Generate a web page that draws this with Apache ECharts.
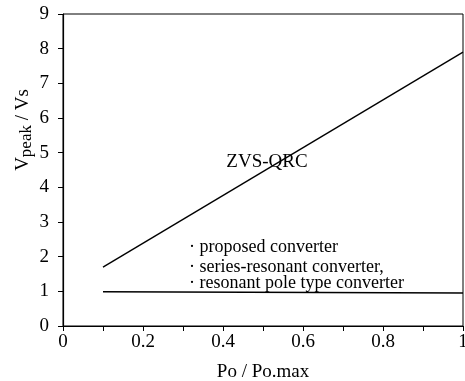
<!DOCTYPE html>
<html>
<head>
<meta charset="utf-8">
<script src="https://cdn.jsdelivr.net/npm/echarts@6/dist/echarts.min.js"></script>
<style>
html,body{margin:0;padding:0;background:#fff;}
#chart{width:465px;height:381px;}
</style>
</head>
<body>
<div id="chart"></div>
<script>
// Data
const xQrc = [0.1, 1.0];
const yQrc = [1.7, 7.9];
const xProposed = [0.1, 1.0];
const yProposed = [0.99, 0.95];
const xTicks = [0, 0.2, 0.4, 0.6, 0.8, 1];
const yTicks = [0, 1, 2, 3, 4, 5, 6, 7, 8, 9];
const legendLines = ['· proposed converter', '· series-resonant converter,', '· resonant pole type converter'];
const curveLabel = 'ZVS-QRC';

const FONT = 'Liberation Serif';
const chart = echarts.init(document.getElementById('chart'));

const pair = (xs, ys) => xs.map((x, i) => [x, ys[i]]);

chart.setOption({
  animation: false,
  backgroundColor: '#fff',
  grid: {left: 63, right: 2, top: 14, bottom: 55, show: true, borderColor: '#000', borderWidth: 1,
    backgroundColor: 'transparent', containLabel: false, outerBoundsMode: 'none'},
  xAxis: {
    type: 'value', min: 0, max: 1, interval: 0.1,
    name: 'Po / Po.max', nameLocation: 'middle', nameGap: 37,
    nameTextStyle: {fontFamily: FONT, fontSize: 19, color: '#000'},
    axisLine: {lineStyle: {color: '#000', width: 1.2}},
    axisTick: {show: true, inside: false, length: 5, lineStyle: {color: '#000'}},
    splitLine: {show: false},
    axisLabel: {
      fontFamily: FONT, fontSize: 19, color: '#000', margin: 7,
      formatter: v => {
        const m = xTicks.find(t => Math.abs(t - v) < 1e-6);
        return m === undefined ? '' : String(m);
      }
    }
  },
  yAxis: {
    type: 'value', min: 0, max: 9, interval: 1,
    axisLine: {show: true, lineStyle: {color: '#000', width: 1.2}},
    axisTick: {show: true, inside: false, length: 5, lineStyle: {color: '#000'}},
    splitLine: {show: false},
    axisLabel: {
      fontFamily: FONT, fontSize: 19, color: '#000', margin: 14,
      formatter: v => yTicks.includes(Math.round(v)) ? String(Math.round(v)) : ''
    }
  },
  series: [
    {type: 'line', data: pair(xQrc, yQrc), showSymbol: false, lineStyle: {color: '#000', width: 1.4}},
    {type: 'line', data: pair(xProposed, yProposed), showSymbol: false, lineStyle: {color: '#000', width: 1.4}}
  ],
  graphic: [
    {type: 'text', x: 23, y: 130, rotation: Math.PI / 2,
      style: {text: '{a|V}{b|peak}{a| / Vs}', align: 'center', verticalAlign: 'middle', fill: '#000',
        rich: {a: {fontFamily: FONT, fontSize: 19, lineHeight: 22, fill: '#000'},
               b: {fontFamily: FONT, fontSize: 17, fill: '#000', padding: [8, 0, 0, 0]}}}},
    {type: 'text', x: 267, y: 162, style: {text: curveLabel, font: '19px "Liberation Serif"', fill: '#000', align: 'center', verticalAlign: 'middle'}},
    {type: 'text', x: 189, y: 247, style: {text: legendLines[0], font: '18px "Liberation Serif"', fill: '#000', align: 'left', verticalAlign: 'middle'}},
    {type: 'text', x: 189, y: 267, style: {text: legendLines[1], font: '18px "Liberation Serif"', fill: '#000', align: 'left', verticalAlign: 'middle'}},
    {type: 'text', x: 189, y: 283, style: {text: legendLines[2], font: '18px "Liberation Serif"', fill: '#000', align: 'left', verticalAlign: 'middle'}}
  ]
});
</script>
</body>
</html>
